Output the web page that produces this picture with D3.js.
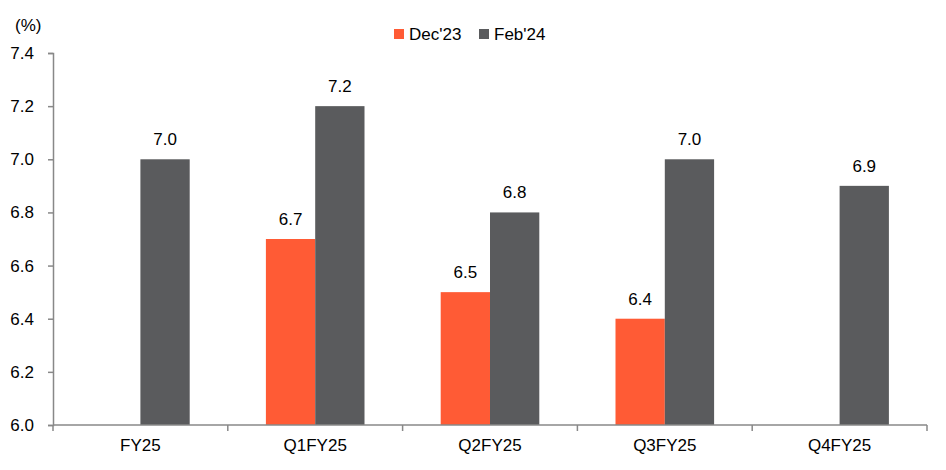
<!DOCTYPE html>
<html>
<head>
<meta charset="utf-8">
<script src="https://cdn.jsdelivr.net/npm/d3@7"></script>
<style>
  body { margin: 0; background: #fff; }
  svg { font-family: "Liberation Sans", Arial, sans-serif; }
</style>
</head>
<body>
<svg id="chart"></svg>
<script>
const categories = ["FY25", "Q1FY25", "Q2FY25", "Q3FY25", "Q4FY25"];
const seriesNames = ["Dec'23", "Feb'24"];
const dec23 = [null, 6.7, 6.5, 6.4, null];
const feb24 = [7.0, 7.2, 6.8, 7.0, 6.9];
const yTicks = [6.0, 6.2, 6.4, 6.6, 6.8, 7.0, 7.2, 7.4];
const colors = ["#FF5B35", "#5A5B5D"];

const W = 946, H = 470;
const margin = { top: 53, right: 19, bottom: 45, left: 53 },
      width = W - margin.left - margin.right,
      height = H - margin.top - margin.bottom;

const svg = d3.select("#chart").attr("width", W).attr("height", H);
const g = svg.append("g").attr("transform", `translate(${margin.left},${margin.top})`);

const x = d3.scaleBand().domain(categories).range([0, width]).padding(0);
const xs = d3.scaleBand().domain(seriesNames).range([0, 98.6])
  .paddingInner(0).paddingOuter(0);
const y = d3.scaleLinear().domain([6.0, 7.4]).range([height, 0]);

const rows = [];
categories.forEach((c, i) => {
  [dec23[i], feb24[i]].forEach((v, j) => {
    if (v != null) rows.push({ cat: c, s: seriesNames[j], v, j });
  });
});

const off = (x.bandwidth() - 98.6) / 2;

g.selectAll("rect.bar")
  .data(rows)
  .join("rect")
  .attr("class", "bar")
  .attr("x", d => x(d.cat) + off + xs(d.s))
  .attr("y", d => y(d.v))
  .attr("width", xs.bandwidth())
  .attr("height", d => height - y(d.v))
  .attr("fill", d => colors[d.j]);

g.selectAll("text.lbl")
  .data(rows)
  .join("text")
  .attr("class", "lbl")
  .attr("x", d => x(d.cat) + off + xs(d.s) + xs.bandwidth() / 2)
  .attr("y", d => y(d.v) - 14)
  .attr("text-anchor", "middle")
  .style("font-size", "17px")
  .style("fill", "#000")
  .text(d => d.v.toFixed(1));

// y axis
const yAxis = g.append("g")
  .call(d3.axisLeft(y).tickValues(yTicks).tickSize(5).tickPadding(14)
    .tickFormat(d3.format(".1f")));
yAxis.select(".domain").attr("stroke", "#888").attr("stroke-width", 1.5);
yAxis.selectAll(".tick line").attr("stroke", "#888").attr("stroke-width", 1.5);
yAxis.selectAll("text").style("font-size", "17px").style("fill", "#000");

// x axis
const xAxisG = g.append("g").attr("transform", `translate(0,${height})`);
xAxisG.append("line")
  .attr("x1", 0).attr("x2", width)
  .attr("stroke", "#888").attr("stroke-width", 1.5);
const bounds = categories.map(c => x(c)).concat([width]);
xAxisG.selectAll("line.tk")
  .data(bounds)
  .join("line")
  .attr("class", "tk")
  .attr("x1", d => d).attr("x2", d => d)
  .attr("y1", 0).attr("y2", 6)
  .attr("stroke", "#888").attr("stroke-width", 1.5);
xAxisG.selectAll("text")
  .data(categories)
  .join("text")
  .attr("x", d => x(d) + x.bandwidth() / 2)
  .attr("y", 26)
  .attr("text-anchor", "middle")
  .style("font-size", "17px")
  .style("fill", "#000")
  .text(d => d);

// unit label
svg.append("text")
  .attr("x", 15).attr("y", 31)
  .style("font-size", "17px")
  .text("(%)");

// legend
const legendX = [394, 479];
const legend = svg.append("g");
seriesNames.forEach((s, i) => {
  legend.append("rect")
    .attr("x", legendX[i]).attr("y", 29)
    .attr("width", 10).attr("height", 10)
    .attr("fill", colors[i]);
  legend.append("text")
    .attr("x", legendX[i] + 15).attr("y", 40)
    .style("font-size", "17px")
    .text(s);
});
</script>
</body>
</html>
